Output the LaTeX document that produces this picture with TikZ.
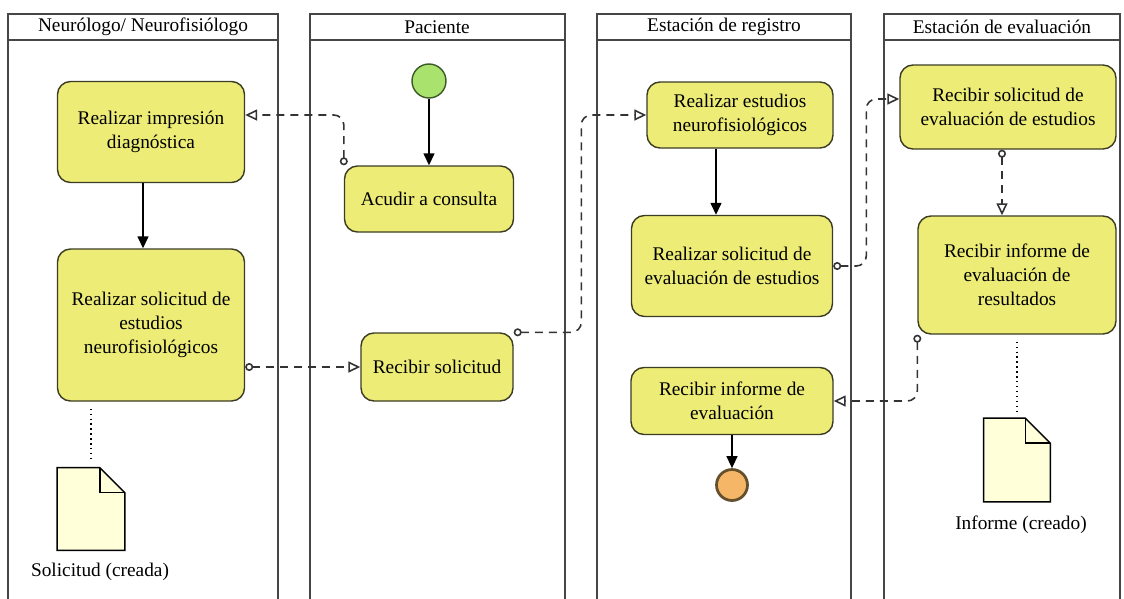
\documentclass[tikz,border=0pt]{standalone}
\usepackage{fontspec}
\setmainfont{Liberation Serif}
\usetikzlibrary{arrows.meta,positioning}

\definecolor{actfill}{RGB}{236,236,118}
\definecolor{actline}{RGB}{60,60,36}
\definecolor{startfill}{RGB}{170,226,110}
\definecolor{startline}{RGB}{60,90,40}
\definecolor{endfill}{RGB}{245,182,104}
\definecolor{endline}{RGB}{100,80,45}
\definecolor{docfill}{RGB}{255,255,218}
\definecolor{laneline}{RGB}{70,70,70}

\begin{document}
\begin{tikzpicture}[
    x = 0.2mm, y = -0.2mm, % one unit per pixel of the sketch
    font = \rmfamily\fontsize{11}{13.7}\selectfont,
    flow/.style = {-{Triangle[length=2.4mm,width=2.2mm]}, line width=0.8pt}, % control flow
    msg/.style = {{Circle[open,length=1.6mm]}-{Triangle[open,length=2.4mm,width=2.2mm]},
                  line width=0.9pt, black!80, dash pattern=on 1.6mm off 1.2mm, rounded corners=2mm}, % object flow
    ]

    \tikzset{
    activity/.style = {draw = actline, fill = actfill, line width = 0.8pt,
                       rounded corners = 2.6mm, align = center, inner sep = 0pt},
    startstate/.style = {circle, draw = startline, fill = startfill, line width = 0.8pt, minimum size = 6.8mm},
    endstate/.style = {circle, draw = endline, fill = endfill, line width = 0.55mm, minimum size = 6.2mm},
    lane/.style = {draw = laneline, line width = 0.8pt},
    lanehead/.style = {inner sep = 0pt},
    docsheet/.style = {inner sep = 0pt},
    doclabel/.style = {inner sep = 0pt}
    }

    \useasboundingbox (0,0) rectangle (1124,598);
    \clip (0,0) rectangle (1124,598);

    % swimlanes
    \draw[lane] (8,14) rectangle (278,620);   \draw[lane] (8,40) -- (278,40);
    \draw[lane] (310,14) rectangle (565,620); \draw[lane] (310,40) -- (565,40);
    \draw[lane] (597,14) rectangle (851,620); \draw[lane] (597,40) -- (851,40);
    \draw[lane] (884,14) rectangle (1120,620); \draw[lane] (884,40) -- (1120,40);

    \node[lanehead] (hNeuro) at (143,27) {Neurólogo/ Neurofisiólogo};
    \node[lanehead] (hPac) at (437,27) {Paciente};
    \node[lanehead] (hReg) at (724,27) {Estación de registro};
    \node[lanehead] (hEval) at (1002,27) {Estación de evaluación};

    % activities
    \node[activity, minimum width=37.4mm, minimum height=20.2mm] (imp) at (151,132)
        {Realizar impresión\\diagnóstica};
    \node[activity, minimum width=37.4mm, minimum height=30.4mm] (solest) at (151,325)
        {Realizar solicitud de\\estudios\\neurofisiológicos};
    \node[startstate] (start) at (429,81) {};
    \node[activity, minimum width=33.8mm, minimum height=13.2mm] (acudir) at (429,199)
        {Acudir a consulta};
    \node[activity, minimum width=30.4mm, minimum height=13.6mm] (recsol) at (437,367)
        {Recibir solicitud};
    \node[activity, minimum width=37.2mm, minimum height=13.2mm] (estudios) at (740,115)
        {Realizar estudios\\neurofisiológicos};
    \node[activity, minimum width=40.2mm, minimum height=20.2mm] (soleval) at (732,266)
        {Realizar solicitud de\\evaluación de estudios};
    \node[activity, minimum width=40.4mm, minimum height=13.4mm] (recinf) at (732,401)
        {Recibir informe de\\evaluación};
    \node[endstate] (end) at (732,485) {};
    \node[activity, minimum width=43.2mm, minimum height=16.8mm] (recsoleval) at (1008,107)
        {Recibir solicitud de\\evaluación de estudios};
    \node[activity, minimum width=39.6mm, minimum height=23.6mm] (recinfres) at (1017,275)
        {Recibir informe de\\evaluación de\\resultados};

    % documents
    \node[docsheet, minimum width=13.4mm, minimum height=16.4mm] (doc1) at (91,509) {};
    \node[docsheet, minimum width=13.2mm, minimum height=16.6mm] (doc2) at (1017,460) {};
    \foreach \d in {doc1,doc2}{
        \draw[fill=docfill, line width=0.8pt] (\d.south west) -- (\d.north west)
            -- ([xshift=-5mm]\d.north east) -- ([yshift=-5mm]\d.north east)
            -- (\d.south east) -- cycle;
        \draw[line width=0.8pt] ([xshift=-5mm]\d.north east) |- ([yshift=-5mm]\d.north east);
    }
    \node[doclabel] (doc1lbl) at (100,572) {Solicitud (creada)};
    \node[doclabel] (doc2lbl) at (1021,525) {Informe (creado)};

    % control flow
    \draw[flow] (start) -- (acudir);
    \draw[flow] ([xshift=-1.6mm]imp.south) -- ([xshift=-1.6mm]imp.south |- solest.north);
    \draw[flow] ([xshift=-4.8mm]estudios.south) -- ([xshift=-4.8mm]estudios.south |- soleval.north);
    \draw[flow] (recinf) -- (end);

    % object flow
    \draw[msg] (acudir.north west) |- ([yshift=3.4mm]imp.east);
    \draw[msg] (recsol.west -| solest.east) -- (recsol.west);
    \draw[msg] (recsol.north east) -| ([xshift=-13mm]estudios.west) -- (estudios.west);
    \draw[msg] (soleval.east) -| ([xshift=-6.6mm,yshift=1.6mm]recsoleval.west)
        -- ([yshift=1.6mm]recsoleval.west);
    \draw[msg] ([xshift=-1.2mm]recsoleval.south) -- ([xshift=-1.2mm]recsoleval.south |- recinfres.north);
    \draw[msg] (recinfres.south west) |- (recinf.east);

    % associations
    \draw[dotted, line width=0.8pt, shorten <=1.4mm, shorten >=1.6mm] (doc1.north |- solest.south) -- (doc1.north);
    \draw[dotted, line width=0.8pt, shorten <=1.4mm, shorten >=0.6mm] (doc2.north |- recinfres.south) -- (doc2.north);
\end{tikzpicture}
\end{document}
